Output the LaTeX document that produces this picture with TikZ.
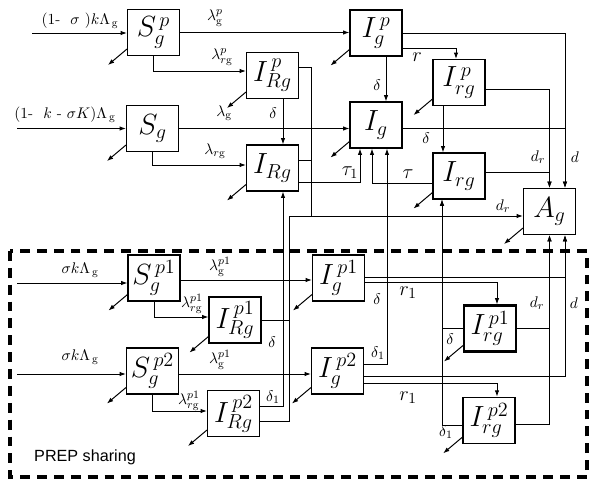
\documentclass[tikz,border=0pt]{standalone}
\usepackage{fontspec}
\newfontfamily\prepfont{Liberation Sans}
\usetikzlibrary{arrows.meta}

\begin{document}
\begin{tikzpicture}[x=0.025cm, y=-0.025cm,
        box/.style={rectangle, draw, line width=0.8pt, minimum width=1.3cm, minimum height=1.15cm, inner sep=0pt, font=\fontsize{20}{24}\selectfont},
        flow/.style={line width=0.7pt, -{Latex[length=4.5pt,width=3.2pt]}},
        rate/.style={inner sep=1pt, font=\fontsize{11}{13}\selectfont},
        bigrate/.style={inner sep=1pt, font=\fontsize{14}{16}\selectfont}
    ]
        \useasboundingbox (0,0) rectangle (601,492);

        % Compartments
        \node[box] (Spg) at (153.5,32.5) {$S_g^{\,p}$};
        \node[box] (IpRg) at (272.5,75.5) {$I_{Rg}^{\,p}$};
        \node[box] (Ipg) at (376,33) {$I_g^{\,p}$};
        \node[box] (Iprg) at (459,82.5) {$I_{rg}^{\,p}$};
        \node[box] (Sg) at (152.5,128.5) {$S_g$};
        \node[box] (IRg) at (272.5,168) {$I_{Rg}$};
        \node[box] (Ig) at (376,125) {$I_g$};
        \node[box] (Irg) at (459,176) {$I_{rg}$};
        \node[box] (Ag) at (549.5,211.5) {$A_g$};

        \node[box] (Sp1g) at (154,278) {$S_g^{\,p1}$};
        \node[box] (Ip1Rg) at (235,320) {$I_{Rg}^{\,p1}$};
        \node[box] (Ip1g) at (338.5,278) {$I_g^{\,p1}$};
        \node[box, line width=1.5pt] (Ip1rg) at (490,328.5) {$I_{rg}^{\,p1}$};
        \node[box] (Sp2g) at (152.5,371) {$S_g^{\,p2}$};
        \node[box] (Ip2Rg) at (233.5,413.5) {$I_{Rg}^{\,p2}$};
        \node[box] (Ip2g) at (337.5,371) {$I_g^{\,p2}$};
        \node[box, line width=1.2pt] (Ip2rg) at (489,420.5) {$I_{rg}^{\,p2}$};

        % PREP sharing frame
        \draw[line width=2.3pt, dash pattern=on 7pt off 5pt] (10,251) rectangle (587,477);
        \node[font=\prepfont\fontsize{11.5}{13}\selectfont] (prep) at (85,457) {PREP sharing};

        % Recruitment
        \coordinate (in1) at (32,33);
        \coordinate (in2) at (17,128.5);
        \coordinate (in3) at (17,283);
        \coordinate (in4) at (17,374);
        \draw[flow] (in1) -- (in1 -| Spg.west);
        \draw[flow] (in2) -- (in2 -| Sg.west);
        \draw[flow] (in3) -- (in3 -| Sp1g.west);
        \draw[flow] (in4) -- (in4 -| Sp2g.west);
        \node[rate] (lin1) at (80,21) {$(1\mbox{-}\ \ \sigma\ )k\Lambda_{\,\mathrm g}$};
        \node[rate] (lin2) at (65,115) {$(1\mbox{-}\ \ k\ \mbox{-}\ \sigma K)\Lambda_{\,\mathrm g}$};
        \node[rate] (lin3) at (80,270) {$\sigma k\Lambda_{\,\mathrm g}$};
        \node[rate] (lin4) at (80,357) {$\sigma k\Lambda_{\,\mathrm g}$};

        % Top block
        \draw[flow] (Spg.east) -- (Spg.east -| Ipg.west);
        \draw[flow] (Spg.south) |- ([shift={(0,-4.5)}]IpRg.west);
        \draw[flow] (Ipg.east) -| ([shift={(15.5,0)}]Ag.north);
        \draw[flow] ([shift={(0,15)}]Ipg.east) -| ([shift={(-3,0)}]Iprg.north);
        \draw[flow] ([shift={(10,0)}]Ipg.south) -- ([shift={(10,0)}]Ig.north);
        \draw[flow] ([shift={(10.5,0)}]IpRg.south) -- ([shift={(10.5,0)}]IRg.north);
        \draw[flow] ([shift={(0,6.5)}]Iprg.east) -| (Ag.north);
        \draw[flow] ([shift={(-16,0)}]Iprg.south) -- ([shift={(-16,0)}]Irg.north);

        % Middle block
        \coordinate (dr) at (311,216);
        \coordinate (dl) at (289,216);
        \draw[flow] (Sg.east) -- (Sg.east -| Ig.west);
        \draw[flow] (Sg.south) |- ([shift={(0,-3)}]IRg.west);
        \draw[flow] ([shift={(0,-8.5)}]IpRg.east) -| (dr) -- (dr -| Ag.west);
        \draw ([shift={(0,-8)}]IRg.east) -| (dr);
        \draw[flow] ([shift={(0,14)}]IRg.east) -| ([shift={(-16,0)}]Ig.south);
        \draw[flow] ([shift={(0,7)}]Irg.west) -| ([shift={(-4,0)}]Ig.south);
        \draw[flow] ([shift={(0,3)}]Ig.east) -| ([shift={(15.5,0)}]Ag.north);
        \draw[flow] ([shift={(0,-4)}]Irg.east) -| (Ag.north);

        % PREP sharing block
        \draw[flow] ([shift={(0,2)}]Sp1g.east) -- ([shift={(0,2)}]Ip1g.west);
        \draw[flow] (Sp1g.south) |- ([shift={(0,-3)}]Ip1Rg.west);
        \draw (Ip1Rg.east) -| (dl);
        \draw ([shift={(0,7.5)}]Ip2Rg.east) -| (dl) -- (dr);
        \draw[flow] ([shift={(0,-7.5)}]Ip2Rg.east) -| ([shift={(10.5,0)}]IRg.south);
        \draw[flow] ([shift={(0,-1)}]Ip1g.east) -| ([shift={(15.5,0)}]Ag.south);
        \draw[flow] ([shift={(0,4)}]Ip1g.east) -| ([shift={(7,0)}]Ip1rg.north);
        \draw[flow] (Ip1rg.east) -| (Ag.south);
        \draw[flow] (Ip1rg.west) -| ([shift={(-17,0)}]Irg.south);
        \draw[flow] ([shift={(0,3)}]Sp2g.east) -- ([shift={(0,3)}]Ip2g.west);
        \draw[flow] (Sp2g.south) |- ([shift={(0,-2.5)}]Ip2Rg.west);
        \draw[flow] ([shift={(0,-7)}]Ip2g.east) -| ([shift={(11,0)}]Ig.south);
        \draw[flow] ([shift={(0,5)}]Ip2g.east) -| ([shift={(15.5,0)}]Ag.south);
        \draw[flow] ([shift={(0,12)}]Ip2g.east) -| ([shift={(8,0)}]Ip2rg.north);
        \draw[flow] ([shift={(0,4)}]Ip2rg.east) -| (Ag.south);
        \draw[flow] ([shift={(0,4.5)}]Ip2rg.west) -| ([shift={(-17,0)}]Irg.south);

        % Deaths
        \foreach \n in {Spg,IpRg,Ipg,Iprg,Sg,IRg,Ig,Irg,Ag,Sp1g,Ip1Rg,Ip1g,Ip1rg,Sp2g,Ip2Rg,Ip2g,Ip2rg} {
            \path ([shift={(0,-7)}]\n.south west) coordinate (\n-o) ++(-19,16) coordinate (\n-x);
            \draw[flow] (\n-o) -- (\n-x);
        }

        % Rates
        \node[rate] (lamgp) at (215,18) {$\lambda_{\mathrm g}^{p}$};
        \node[rate] (lamrgp) at (222,57) {$\lambda_{r\mathrm g}^{p}$};
        \node[rate] (lamg) at (224,113) {$\lambda_{\mathrm g}$};
        \node[rate] (lamrg) at (215,151) {$\lambda_{r\mathrm g}$};
        \node[rate] (delRg) at (273,113) {$\delta$};
        \node[rate] (delg) at (377,85) {$\delta$};
        \node[bigrate, font=\fontsize{15}{17}\selectfont] (rp) at (417,57) {$r$};
        \node[rate] (dtop) at (575,157) {$d$};
        \node[rate] (drtop) at (538,157) {$d_r$};
        \node[rate] (delrg) at (426,138) {$\delta$};
        \node[bigrate] (tau1) at (350,173) {$\tau_1$};
        \node[bigrate] (tau) at (408,174) {$\tau$};
        \node[rate] (drA) at (503,206) {$d_r$};

        \node[rate] (lamgp1) at (220,267) {$\lambda_{\mathrm g}^{p1}$};
        \node[rate] (lamrgp1) at (192,304) {$\lambda_{r\mathrm g}^{p1}$};
        \node[rate] (delRg1) at (272,342) {$\delta$};
        \node[rate] (delg1) at (377,299) {$\delta$};
        \node[bigrate, font=\fontsize{15}{17}\selectfont] (rone) at (408,293) {$r_1$};
        \node[rate] (drlow) at (537,303) {$d_r$};
        \node[rate] (dlow) at (574,303) {$d$};
        \node[rate] (delrg1) at (450,339) {$\delta$};
        \node[rate] (lamgp2) at (220,360) {$\lambda_{\mathrm g}^{p1}$};
        \node[rate] (lamrgp2) at (189,401) {$\lambda_{r\mathrm g}^{p1}$};
        \node[rate] (delRg2) at (273,397) {$\delta_1$};
        \node[rate] (delg2) at (378,353) {$\delta_1$};
        \node[bigrate, font=\fontsize{15}{17}\selectfont] (rtwo) at (408,398) {$r_1$};
        \node[rate] (delrg2) at (446,432) {$\delta_1$};
    \end{tikzpicture}
\end{document}
